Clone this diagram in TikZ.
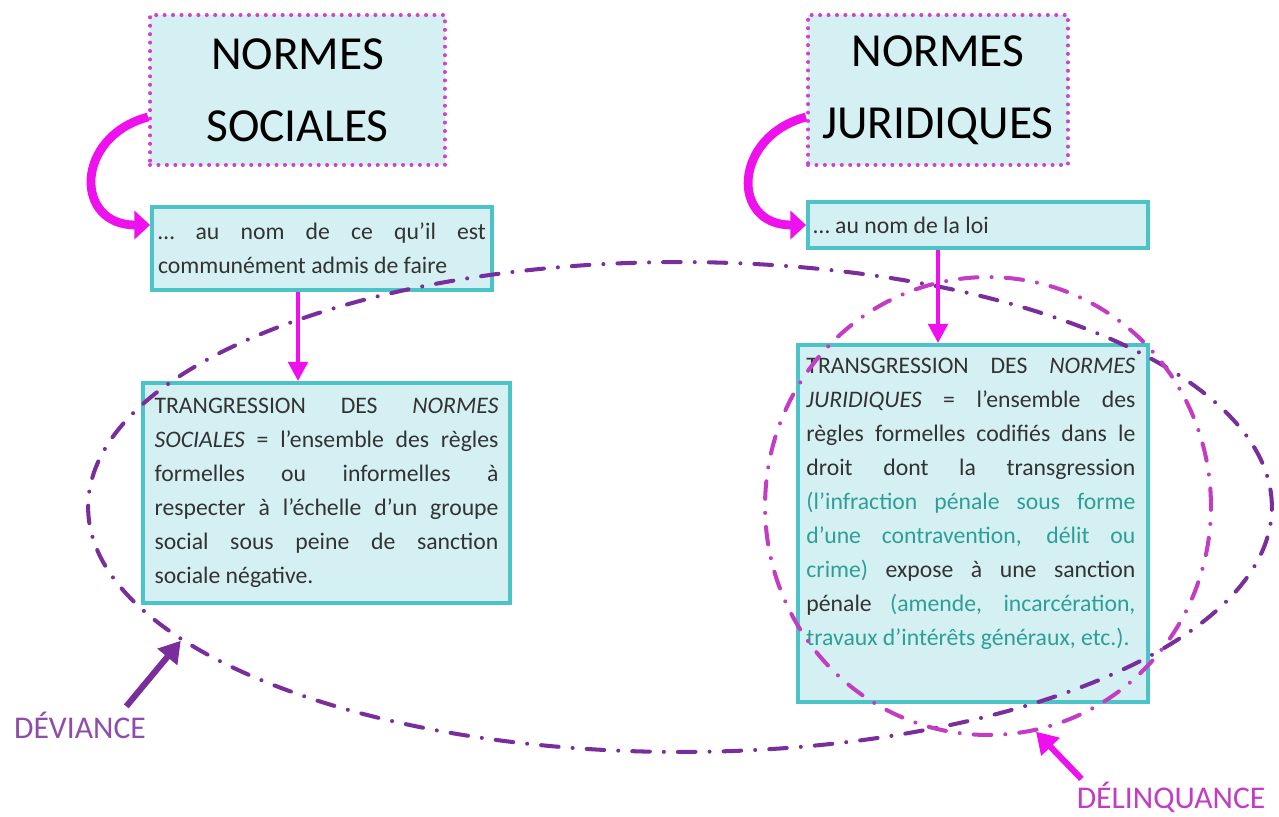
\documentclass[tikz,border=0pt]{standalone}
\usepackage{fontspec}
\setmainfont{Carlito}
\usepackage{xcolor}
\definecolor{boxcyan}{HTML}{D4F0F2}
\definecolor{boxedge}{HTML}{4CC3C7}
\definecolor{dotpink}{HTML}{CC44CC}
\definecolor{arrowpink}{HTML}{EE11EE}
\definecolor{devpurple}{HTML}{7A2E9C}
\definecolor{delpink}{HTML}{C23CC4}
\definecolor{textgray}{HTML}{333333}
\definecolor{textteal}{HTML}{2E9F97}
\usepackage{tikz}
\usetikzlibrary{shapes.geometric,arrows.meta,positioning}

\begin{document}
\begin{tikzpicture}[
        x=0.02cm, y=-0.02cm,
        normbox/.style={rectangle, draw=dotpink, line width=2.3pt, dash pattern=on 0pt off 4.8pt, line cap=round, fill=boxcyan, align=center, inner sep=0pt, font=\fontsize{27}{41}\selectfont, text=black},
        defbox/.style={rectangle, draw=boxedge, line width=2.2pt, fill=boxcyan, inner sep=0pt},
        bodytext/.style={align=justify, inner sep=0pt, font=\fontsize{13.5}{19.3}\selectfont, text=textgray},
        zone/.style={ellipse, inner sep=0pt, line width=2.3pt, line cap=round, dash pattern=on 10pt off 8pt on 0pt off 8pt},
        pinkarrow/.style={draw=arrowpink, line width=2.6pt, -{Triangle[length=11pt, width=11pt]}},
        curvearrow/.style={draw=arrowpink, line width=5pt, -{Triangle[length=9pt, width=16pt]}},
        labelarrow/.style={line width=3.5pt, -{Triangle[length=12pt, width=14pt]}},
        tag/.style={inner sep=0pt, font=\fontsize{18}{20}\selectfont}
    ]
        \useasboundingbox (0,0) rectangle (1279,816);

        % Normes
        \node[normbox, minimum width=5.9cm, minimum height=3cm] (socbox) at (297.5,90) {NORMES\\SOCIALES};
        \node[normbox, minimum width=5.2cm, minimum height=3cm] (jurbox) at (938,90) {NORMES\\JURIDIQUES};

        % au nom de ...
        \node[defbox, bodytext, text width=6.56cm, minimum width=6.8cm, minimum height=1.66cm] (socname) at (322,248.5)
            {\ldots{} au nom de ce qu’il est\linebreak communément admis de faire};
        \node[defbox, minimum width=6.8cm, minimum height=0.92cm] (loibox) at (978,225) {};
        \node[bodytext, anchor=west] (loitext) at ([xshift=0.14cm]loibox.west) {\ldots{} au nom de la loi};

        % Definitions
        \node[defbox, bodytext, text width=6.88cm, minimum width=7.34cm, minimum height=4.4cm] (socdef) at (326.5,493)
            {TRANGRESSION DES \textit{NORMES}\linebreak
             \textit{SOCIALES} = l’ensemble des règles\linebreak
             formelles ou informelles à\linebreak
             respecter à l’échelle d’un groupe\linebreak
             social sous peine de sanction\linebreak
             sociale négative.};
        \node[defbox, minimum width=7cm, minimum height=7.14cm] (jurdef) at (973,523.5) {};
        \node[bodytext, text width=6.58cm, anchor=north west] (jurtext) at ([xshift=0.2cm, yshift=-0.3cm]jurdef.north west)
            {TRANSGRESSION DES \textit{NORMES}\linebreak
             \textit{JURIDIQUES} = l’ensemble des\linebreak
             règles formelles codifiés dans le\linebreak
             droit dont la transgression\linebreak
             \textcolor{textteal}{(l’infraction pénale sous forme\linebreak
             d’une contravention, délit ou\linebreak
             crime)} expose à une sanction\linebreak
             pénale \textcolor{textteal}{(amende, incarcération,\linebreak
             travaux d’intérêts généraux, etc.).}};

        % Zones
        \node[zone, draw=devpurple, minimum width=23.68cm, minimum height=9.8cm] (devzone) at (680,507) {};
        \node[zone, draw=delpink, minimum width=8.92cm, minimum height=9.16cm] (delzone) at (988,506) {};

        % Labels
        \node[tag, text=devpurple!85] (devlabel) at (80,725) {DÉVIANCE};
        \node[tag, text=delpink] (dellabel) at (1171,797) {DÉLINQUANCE};

        % Arrows
        \draw[curvearrow] ([yshift=-0.54cm]socbox.west) to[out=195, in=180, looseness=1.8] ([yshift=0.47cm]socname.west);
        \draw[curvearrow] ([yshift=-0.54cm]jurbox.west) to[out=195, in=180, looseness=1.8] (loibox.west);
        \draw[pinkarrow] ([xshift=-0.48cm]socname.south) -- ([xshift=-0.48cm]socname.south |- socdef.north);
        \draw[pinkarrow] ([xshift=-0.8cm]loibox.south) -- ([xshift=-0.8cm]loibox.south |- jurdef.north);
        \draw[labelarrow, draw=devpurple] ([xshift=-0.4cm, yshift=0.1cm]devlabel.north east) -- (devzone.195);
        \draw[labelarrow, draw=arrowpink] ([xshift=0.1cm, yshift=0.05cm]dellabel.north west) -- (delzone.282);

    \end{tikzpicture}
\end{document}
